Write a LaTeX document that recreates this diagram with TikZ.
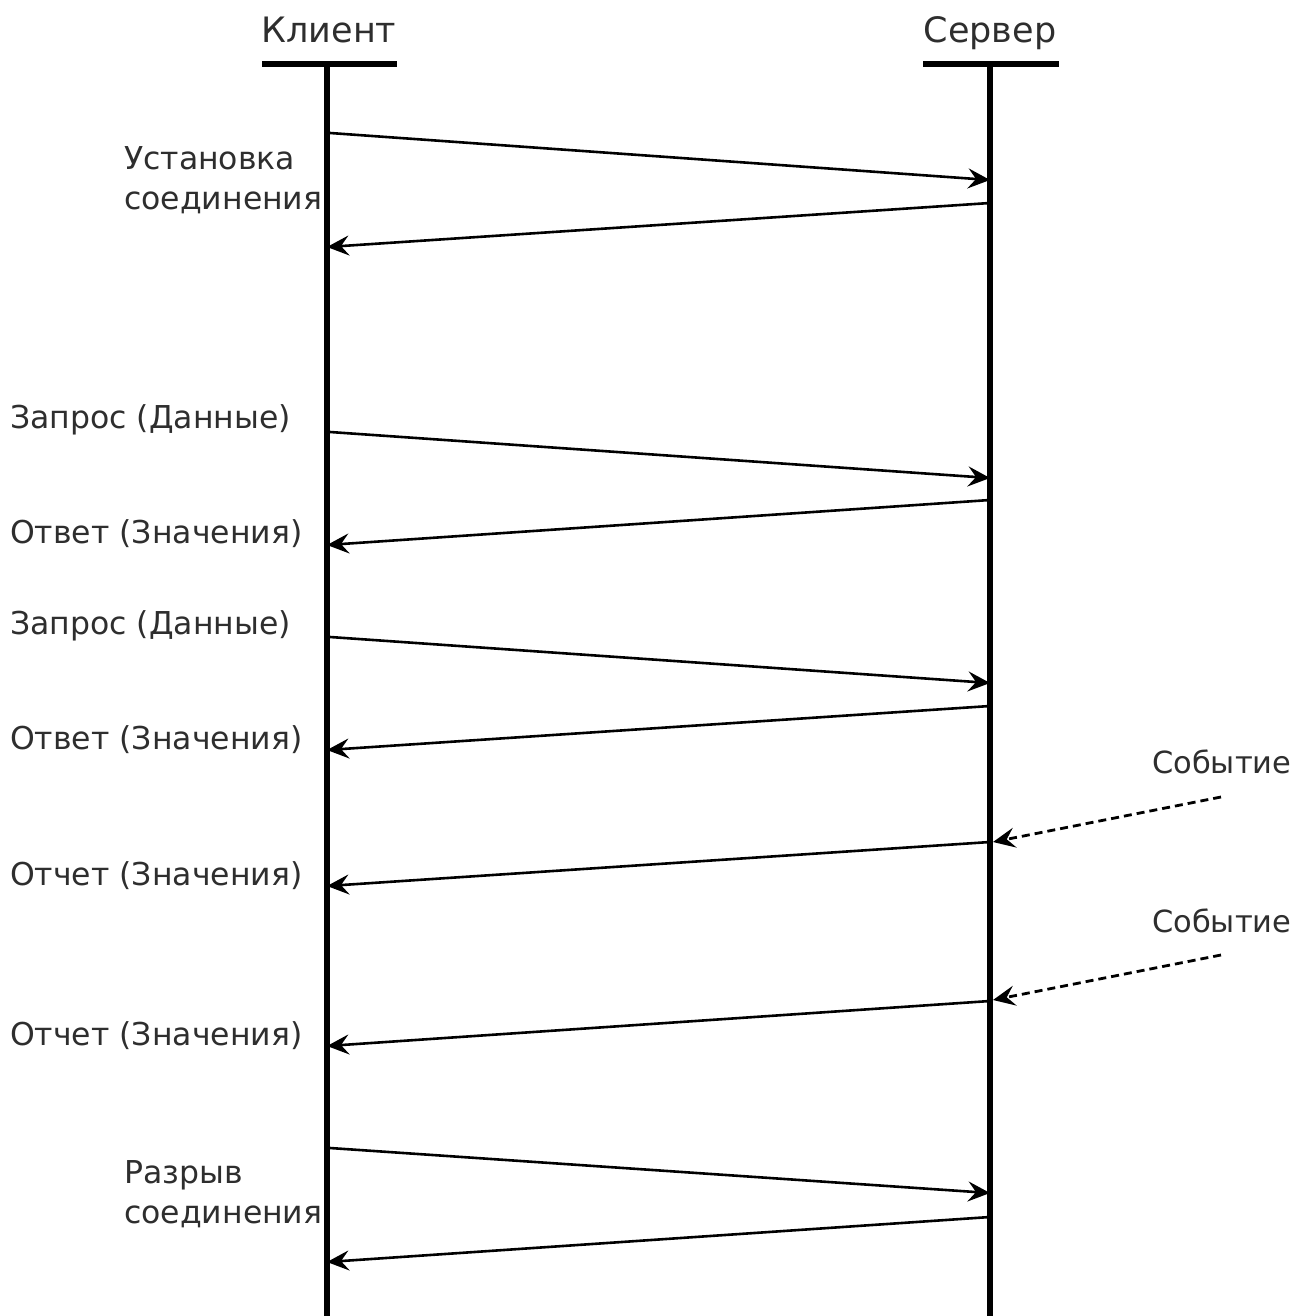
\documentclass[tikz,border=0pt]{standalone}
\usepackage{fontspec}
\setmainfont{DejaVu Sans}
\usetikzlibrary{arrows.meta}
\begin{document}
\begin{tikzpicture}[x=1pt,y=-1pt,
  lbl/.style={text=black!82,font=\fontsize{31.5}{40}\selectfont,inner sep=0pt},
  ttl/.style={text=black!82,font=\fontsize{35}{40}\selectfont,inner sep=0pt,anchor=base},
  evlbl/.style={text=black!82,font=\fontsize{30.5}{40}\selectfont,inner sep=0pt},
  life/.style={line width=6.5pt},
  cap bar/.style={line width=5.5pt},
  msg/.style={line width=2.6pt,-{Stealth[length=22pt,width=20pt,inset=8pt]}},
  evt/.style={line width=2.8pt,dash pattern=on 8pt off 5pt,-{Stealth[length=22pt,width=20pt,inset=8pt]}}]
\useasboundingbox (0,0) rectangle (1295,1316);
% lifelines
\coordinate (cTop) at (327,64);
\coordinate (cBot) at (327,1320);
\coordinate (sTop) at (990,64);
\coordinate (sBot) at (990,1320);
\draw[life] (cTop) -- (cBot);
\draw[life] (sTop) -- (sBot);
\draw[cap bar] (262,64) -- (397,64);
\draw[cap bar] (923,64) -- (1059,64);
\node[ttl] (client) at (329,43) {Клиент};
\node[ttl] (server) at (990,43) {Сервер};
% message anchors on the lifelines
\foreach \n/\x/\y in {
  c1/330/133, s1/990/180, s2/990/203, c2/327/247,
  c3/330/432, s3/990/478, s4/990/500, c4/327/545,
  c5/330/637, s5/990/683, s6/990/706, c6/327/750,
  s7/990/842, c7/327/886, s8/990/1001, c8/327/1046,
  c9/330/1148, s9/990/1193, s10/990/1217, c10/327/1262,
  e1/1221/797, e1t/993/842, e2/1221/955, e2t/993/1000}
  \coordinate (\n) at (\x,\y);
% messages
\draw[msg] (c1) -- (s1);
\draw[msg] (s2) -- (c2);
\draw[msg] (c3) -- (s3);
\draw[msg] (s4) -- (c4);
\draw[msg] (c5) -- (s5);
\draw[msg] (s6) -- (c6);
\draw[msg] (s7) -- (c7);
\draw[msg] (s8) -- (c8);
\draw[msg] (c9) -- (s9);
\draw[msg] (s10) -- (c10);
% events
\draw[evt] (e1) -- (e1t);
\draw[evt] (e2) -- (e2t);
% labels
\node[lbl,anchor=west,align=left] (setup) at (124,180) {Установка\\соединения};
\node[lbl,anchor=west] (req1) at (10,420) {Запрос (Данные)};
\node[lbl,anchor=west] (ans1) at (10,534) {Ответ (Значения)};
\node[lbl,anchor=west] (req2) at (10,626) {Запрос (Данные)};
\node[lbl,anchor=west] (ans2) at (10,740) {Ответ (Значения)};
\node[evlbl,anchor=west] (ev1) at (1152,762) {Событие};
\node[lbl,anchor=west] (rep1) at (10,876) {Отчет (Значения)};
\node[evlbl,anchor=west] (ev2) at (1152,921) {Событие};
\node[lbl,anchor=west] (rep2) at (10,1036) {Отчет (Значения)};
\node[lbl,anchor=west,align=left] (close) at (124,1194) {Разрыв\\соединения};
\end{tikzpicture}
\end{document}
